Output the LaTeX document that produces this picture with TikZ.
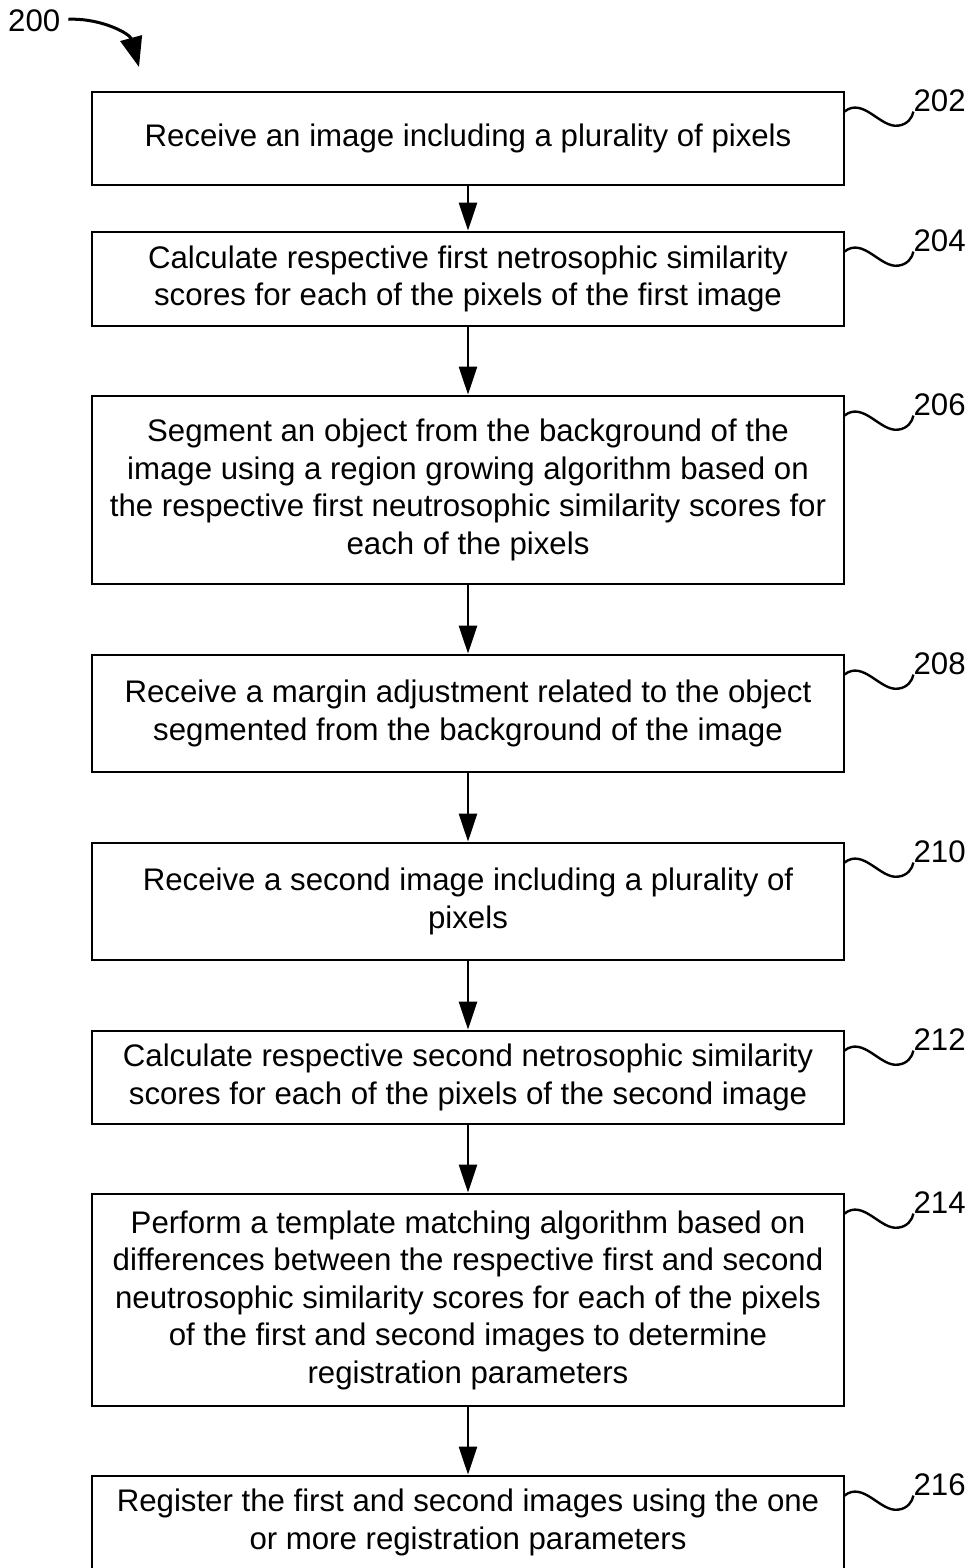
\documentclass[tikz,border=0pt]{standalone}
\usepackage{fontspec}
\setmainfont{Liberation Sans}
\usetikzlibrary{arrows.meta}
\begin{document}
\begin{tikzpicture}[x=1pt,y=-1pt,
  stepbox/.style={draw,line width=2.8pt,minimum width=752pt,align=center,inner sep=0pt,
    font=\fontsize{31.2}{37.5}\selectfont},
  arr/.style={line width=2.6pt,-{Triangle[length=28pt,width=18pt]}},
  reflabel/.style={anchor=base west,inner sep=0pt,font=\fontsize{31.2}{37.5}\selectfont},
  squig/.style={line width=2.4pt}]
\useasboundingbox (0,0) rectangle (967,1568);
\clip (0,0) rectangle (967,1568);
\fill[white] (0,0) rectangle (967,1568);

\node[reflabel] (l200) at (8,32) {200};
\coordinate (t200) at (139,67);
\draw[line width=3pt,-{Triangle[length=30pt,width=22pt]}] ([xshift=8pt,yshift=2pt]l200.east) .. controls (102,18) and (130,34) .. (t200);

\node[stepbox,minimum height=93pt] (b1) at (468,138.5) {Receive an image including a plurality of pixels};
\node[stepbox,minimum height=94pt] (b2) at (468,279) {Calculate respective first netrosophic similarity\\scores for each of the pixels of the first image};
\node[stepbox,minimum height=188pt] (b3) at (468,490) {Segment an object from the background of the\\image using a region growing algorithm based on\\the respective first neutrosophic similarity scores for\\each of the pixels};
\node[stepbox,minimum height=117pt] (b4) at (468,713.5) {Receive a margin adjustment related to the object\\segmented from the background of the image};
\node[stepbox,minimum height=117pt] (b5) at (468,901.5) {Receive a second image including a plurality of\\pixels};
\node[stepbox,minimum height=93pt] (b6) at (468,1077.5) {Calculate respective second netrosophic similarity\\scores for each of the pixels of the second image};
\node[stepbox,minimum height=212pt] (b7) at (468,1300) {Perform a template matching algorithm based on\\differences between the respective first and second\\neutrosophic similarity scores for each of the pixels\\of the first and second images to determine\\registration parameters};
\node[stepbox,minimum height=93pt] (b8) at (468,1522.5) {Register the first and second images using the one\\or more registration parameters};

\foreach \a/\b in {b1/b2,b2/b3,b3/b4,b4/b5,b5/b6,b6/b7,b7/b8}
  \draw[arr] (\a.south) -- (\b.north);

\foreach \b/\n in {b1/202,b2/204,b3/206,b4/208,b5/210,b6/212,b7/214,b8/216}{
  \begin{scope}[shift={(\b.north east)}]
    \node[reflabel] (r\n) at (68,21) {\n};
    \draw[squig] (-1,21) .. controls (18,6) and (35,38) .. (53,35) .. controls (62,34) and (67,27) .. (r\n.base west);
  \end{scope}
}
\end{tikzpicture}
\end{document}
